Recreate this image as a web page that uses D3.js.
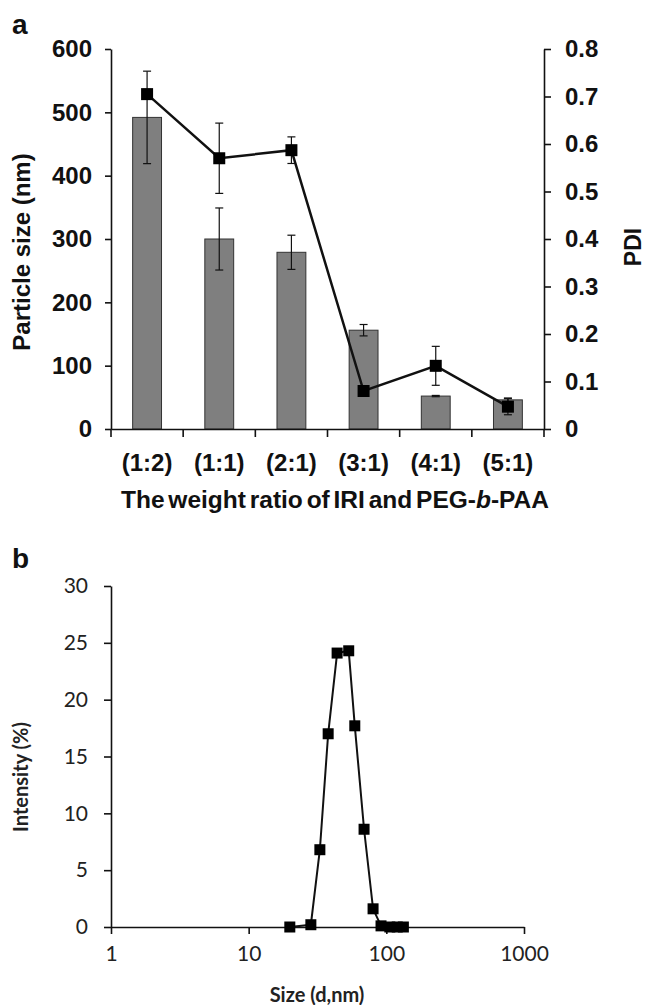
<!DOCTYPE html>
<html>
<head>
<meta charset="utf-8">
<script src="https://cdn.jsdelivr.net/npm/d3@7"></script>
<style>
  body { margin: 0; background: #fff; }
  .pa text { font-family: "Liberation Sans", Arial, sans-serif; font-weight: bold; fill: #111; }
  .pb text { font-family: Lato, "Open Sans", sans-serif; fill: #222; }
  .axis path, .axis line { stroke: #111; stroke-width: 1.6; }
</style>
</head>
<body>
<script>
var ratioLabels = ["(1:2)", "(1:1)", "(2:1)", "(3:1)", "(4:1)", "(5:1)"];
var particleSize = [492, 300, 279, 156, 52, 46];
var particleSizeErr = [73, 49, 27, 9, 1, 3];
var pdi = [0.705, 0.57, 0.587, 0.08, 0.133, 0.047];
var pdiErr = [0.01, 0.074, 0.028, 0.01, 0.041, 0.017];
var sizeTicks = [0, 100, 200, 300, 400, 500, 600];
var pdiTicks = [0, 0.1, 0.2, 0.3, 0.4, 0.5, 0.6, 0.7, 0.8];

var dlsSize = [19.9, 28.3, 32.9, 37.8, 43.9, 53.3, 59.0, 68.9, 80.1, 91.5, 106, 120, 133];
var dlsIntensity = [0, 0.2, 6.8, 17.0, 24.1, 24.3, 17.7, 8.6, 1.6, 0.1, 0, 0, 0];
var intensityTicks = [0, 5, 10, 15, 20, 25, 30];
var logTicks = [1, 10, 100, 1000];

var svg = d3.select("body").append("svg")
  .attr("width", 648).attr("height", 1005);
svg.append("rect").attr("width", 648).attr("height", 1005).attr("fill", "#fff");

// ---- panel a: bars (size) + line (PDI) ----
var ga = svg.append("g").attr("class", "pa");

var xBand = d3.scaleBand().domain(ratioLabels).range([111, 544])
  .paddingInner(0.6).paddingOuter(0.3);
var xEdge = d3.scaleBand().domain(ratioLabels).range([111, 544]);
var ySize = d3.scaleLinear().domain([0, 600]).range([429, 49]);
var yPdi = d3.scaleLinear().domain([0, 0.8]).range([429, 49]);

ga.selectAll("rect.bar").data(ratioLabels).enter().append("rect")
  .attr("class", "bar")
  .attr("x", function(d){ return xBand(d); })
  .attr("width", xBand.bandwidth())
  .attr("y", function(d, i){ return ySize(particleSize[i]); })
  .attr("height", function(d, i){ return ySize(0) - ySize(particleSize[i]); })
  .attr("fill", "#7f7f7f").attr("stroke", "#333").attr("stroke-width", 1);

function errBars(g, xs, vals, errs, y, cap) {
  var e = g.append("g").attr("stroke", "#111").attr("stroke-width", 1.2);
  xs.forEach(function(d, i){
    var cx = xBand(d) + xBand.bandwidth() / 2;
    var y1 = y(vals[i] + errs[i]), y2 = y(vals[i] - errs[i]);
    e.append("line").attr("x1", cx).attr("x2", cx).attr("y1", y1).attr("y2", y2);
    e.append("line").attr("x1", cx - cap).attr("x2", cx + cap).attr("y1", y1).attr("y2", y1);
    e.append("line").attr("x1", cx - cap).attr("x2", cx + cap).attr("y1", y2).attr("y2", y2);
  });
}
errBars(ga, ratioLabels, particleSize, particleSizeErr, ySize, 4);

var pdiLine = d3.line()
  .x(function(d, i){ return xBand(ratioLabels[i]) + xBand.bandwidth() / 2; })
  .y(function(d){ return yPdi(d); });
ga.append("path").datum(pdi).attr("d", pdiLine)
  .attr("fill", "none").attr("stroke", "#111").attr("stroke-width", 2.5);
errBars(ga, ratioLabels, pdi, pdiErr, yPdi, 4);

ga.selectAll("rect.mk").data(pdi).enter().append("rect")
  .attr("class", "mk")
  .attr("x", function(d, i){ return xBand(ratioLabels[i]) + xBand.bandwidth() / 2 - 6; })
  .attr("y", function(d){ return yPdi(d) - 6; })
  .attr("width", 12).attr("height", 12).attr("fill", "#000");

ga.append("g").attr("class", "axis").attr("transform", "translate(111,0)")
  .call(d3.axisLeft(ySize).tickValues(sizeTicks).tickSize(6).tickSizeOuter(0).tickPadding(13))
  .selectAll("text").style("font-size", "24px");
ga.append("g").attr("class", "axis").attr("transform", "translate(544,0)")
  .call(d3.axisRight(yPdi).tickValues(pdiTicks).tickSize(7).tickSizeOuter(0).tickPadding(14)
    .tickFormat(function(d){ return d === 0 ? "0" : d3.format(".1f")(d); }))
  .selectAll("text").style("font-size", "24px");

var xAx = ga.append("g").attr("class", "axis").attr("transform", "translate(0,429)")
  .call(d3.axisBottom(xEdge).tickSize(0).tickSizeOuter(0).tickPadding(25));
xAx.selectAll("text").style("font-size", "24px");
xAx.selectAll("line.edge").data(d3.range(ratioLabels.length + 1)).enter().append("line")
  .attr("class", "edge")
  .attr("x1", function(i){ return xEdge.range()[0] + i * xEdge.step(); })
  .attr("x2", function(i){ return xEdge.range()[0] + i * xEdge.step(); })
  .attr("y1", 0).attr("y2", 8);

ga.append("text").attr("x", 12).attr("y", 34).style("font-size", "28px").text("a");
ga.append("text").attr("transform", "translate(30,252) rotate(-90)")
  .attr("text-anchor", "middle").style("font-size", "24px").text("Particle size (nm)");
ga.append("text").attr("transform", "translate(641,247) rotate(-90)")
  .attr("text-anchor", "middle").style("font-size", "23px").text("PDI");
var xt = ga.append("text").attr("x", 335).attr("y", 508)
  .attr("text-anchor", "middle").style("font-size", "24.5px").style("word-spacing", "-3px");
xt.append("tspan").text("The weight ratio of IRI and PEG-");
xt.append("tspan").style("font-style", "italic").text("b");
xt.append("tspan").text("-PAA");

// ---- panel b: DLS size distribution ----
var gb = svg.append("g").attr("class", "pb");
var xLog = d3.scaleLog().domain([1, 1000]).range([111, 524]);
var yInt = d3.scaleLinear().domain([0, 30]).range([927, 586]);

gb.append("g").attr("class", "axis").attr("transform", "translate(0,927)")
  .call(d3.axisBottom(xLog).tickValues(logTicks).tickFormat(d3.format("d"))
    .tickSize(7).tickSizeOuter(0).tickPadding(12))
  .selectAll("text").style("font-size", "21px");
gb.append("g").attr("class", "axis").attr("transform", "translate(111,0)")
  .call(d3.axisLeft(yInt).tickValues(intensityTicks).tickSize(7).tickSizeOuter(0).tickPadding(16))
  .selectAll("text").style("font-size", "21px");

var dls = d3.line()
  .x(function(d, i){ return xLog(dlsSize[i]); })
  .y(function(d){ return yInt(d); });
gb.append("path").datum(dlsIntensity).attr("d", dls)
  .attr("fill", "none").attr("stroke", "#111").attr("stroke-width", 2);
gb.selectAll("rect.mk").data(dlsIntensity).enter().append("rect")
  .attr("class", "mk")
  .attr("x", function(d, i){ return xLog(dlsSize[i]) - 5.5; })
  .attr("y", function(d){ return yInt(d) - 5.5; })
  .attr("width", 11).attr("height", 11).attr("fill", "#000");

gb.append("text").attr("x", 12).attr("y", 568)
  .style("font-family", "Liberation Sans, Arial, sans-serif").style("font-weight", "bold")
  .style("font-size", "28px").style("fill", "#111").text("b");
gb.append("text").attr("transform", "translate(28,777) rotate(-90)")
  .attr("text-anchor", "middle").style("font-size", "20px").style("font-weight", "bold")
  .text("Intensity (%)");
gb.append("text").attr("x", 317).attr("y", 1002)
  .attr("text-anchor", "middle").style("font-size", "20px").style("font-weight", "bold")
  .text("Size (d,nm)");
</script>
</body>
</html>
